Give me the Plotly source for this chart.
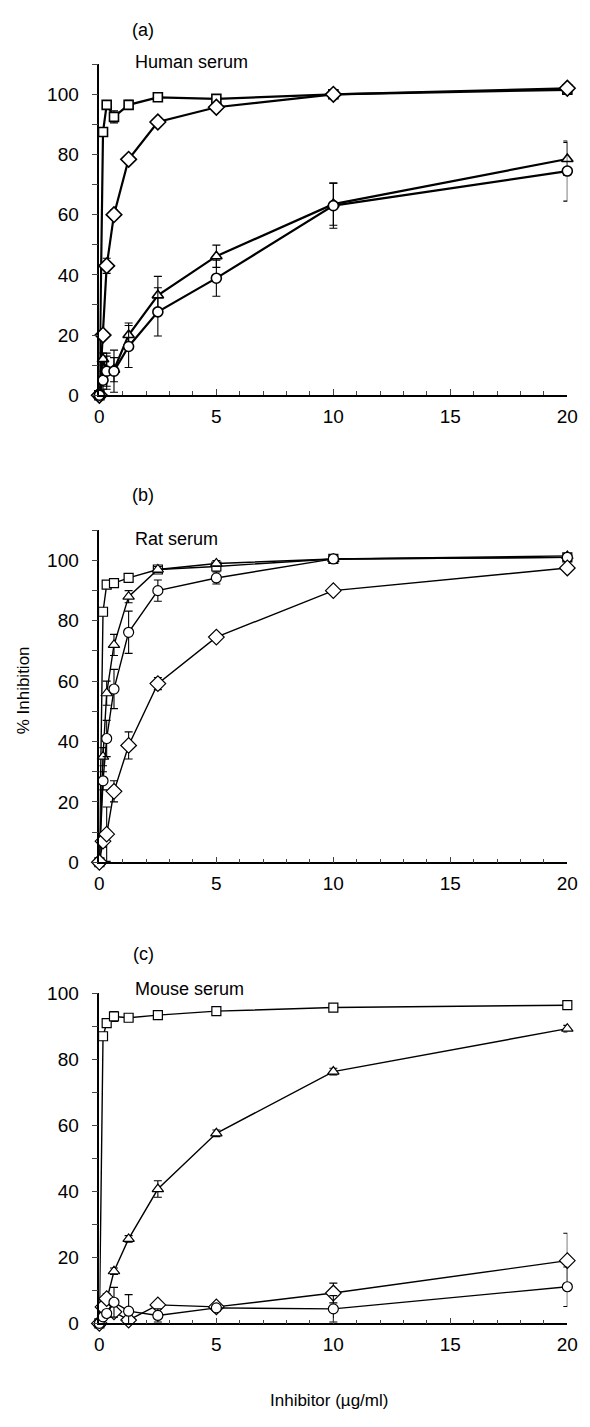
import plotly.graph_objects as go

# ---------------- data ----------------
x = [0, 0.156, 0.3125, 0.625, 1.25, 2.5, 5, 10, 20]

# (a) Human serum
sq_a = [0, 87.5, 96.5, 92.5, 96.5, 99, 98.5, 100, 101.5]
sq_a_err = [0, 1, 1, 2, 1.5, 1, 1, 0.5, 0.5]
dia_a = [0, 20, 43, 60, 78.4, 90.8, 95.7, 100, 102]
dia_a_err = [0, 1.5, 2.5, 1.5, 1, 1, 1, 0.5, 0.5]
tri_a = [0, 12, 8, 8.5, 20, 33.2, 46.2, 63.5, 78.5]
tri_a_err = [0, 2, 5, 4, 4, 6.3, 3.7, 7, 5.5]
cir_a = [0, 5, 8, 8, 16.2, 27.7, 38.9, 63, 74.5]
cir_a_err = [0, 3, 6, 7, 7, 8, 6, 7.5, 10]

# (b) Rat serum
sq_b = [0, 83, 92, 92.5, 94.2, 97, 98, 100.5, 101]
sq_b_err = [0, 1, 1, 1, 1, 1, 1, 0.5, 0.5]
tri_b = [0, 35, 56, 72, 88, 97, 99, 100.5, 101.5]
tri_b_err = [0, 3, 4, 3.5, 2, 1, 1, 0.5, 0.5]
cir_b = [0, 27, 41, 57.4, 76.2, 90, 94.2, 100.5, 101]
cir_b_err = [0, 3, 6, 6.5, 7, 3.5, 2, 0.5, 0.5]
dia_b = [0, 7, 9.3, 23.5, 38.7, 59.2, 74.6, 90, 97.5]
dia_b_err = [0, 2, 9, 3.5, 4.5, 2, 1, 1, 1]

# (c) Mouse serum
sq_c = [0, 87, 91, 93, 92.6, 93.4, 94.6, 95.7, 96.4]
sq_c_err = [0, 1, 1, 1.5, 0.5, 0.5, 0.5, 0.5, 0.5]
tri_c = [0, 3, 7, 15.8, 25.6, 40.7, 57.6, 76.3, 89.3]
tri_c_err = [0, 1, 1, 1, 1, 2.5, 1, 1, 1]
dia_c = [0, 5, 7.5, 3.5, 1, 5.6, 5, 9.2, 19]
dia_c_err = [0, 1, 1.5, 1, 1, 1, 1, 3, 8.3]
cir_c = [0, 2, 3, 6.4, 3.7, 2.4, 4.7, 4.4, 11.1]
cir_c_err = [0, 1, 1, 4.5, 5, 2, 1, 4, 6]

x_ticks = [0, 5, 10, 15, 20]
y_ticks = [0, 20, 40, 60, 80, 100]

panels = [
    dict(label="(a)", name="Human serum", yr=110, lw=2.2, mlw=1.6,
         series=[("square", sq_a, sq_a_err), ("diamond", dia_a, dia_a_err),
                 ("triangle-up", tri_a, tri_a_err), ("circle", cir_a, cir_a_err)]),
    dict(label="(b)", name="Rat serum", yr=110, lw=1.4, mlw=1.2,
         series=[("square", sq_b, sq_b_err), ("triangle-up", tri_b, tri_b_err),
                 ("circle", cir_b, cir_b_err), ("diamond", dia_b, dia_b_err)]),
    dict(label="(c)", name="Mouse serum", yr=100, lw=1.4, mlw=1.2,
         series=[("square", sq_c, sq_c_err), ("triangle-up", tri_c, tri_c_err),
                 ("diamond", dia_c, dia_c_err), ("circle", cir_c, cir_c_err)]),
]

W, H = 590, 1427
X0, X1 = 97, 578
tops = [55, 528, 998]
bots = [391, 865, 1333]
label_y = [20, 492, 958]
name_y = [53, 537, 994]
sizes = {"square": 9, "diamond": 12, "triangle-up": 10, "circle": 10}

FONT = "Liberation Sans, Arial, sans-serif"

fig = go.Figure()
layout = dict(width=W, height=H, margin=dict(l=0, r=0, t=0, b=0),
              plot_bgcolor="white", paper_bgcolor="white", showlegend=False,
              font=dict(family=FONT, color="black"))
annotations = []

for i, p in enumerate(panels):
    k = i + 1
    xa = "x" if k == 1 else f"x{k}"
    ya = "y" if k == 1 else f"y{k}"
    for sym, vals, err in p["series"]:
        fig.add_trace(go.Scatter(
            x=x, y=vals, xaxis=xa, yaxis=ya, mode="lines+markers",
            line=dict(color="black", width=p["lw"]),
            marker=dict(symbol=sym, size=sizes[sym], color="white",
                        line=dict(color="black", width=p["mlw"])),
            error_y=dict(type="data", array=err, color="black", thickness=1.1, width=4),
            cliponaxis=False))
    layout[f"xaxis{'' if k == 1 else k}"] = dict(
        domain=[X0 / W, X1 / W], anchor=ya, range=[0, 20],
        tickvals=x_ticks, ticks="inside", ticklen=6, tickwidth=1,
        minor=dict(dtick=1, ticks="inside", ticklen=4, tickwidth=1),
        showline=True, linecolor="black", linewidth=1.5,
        showgrid=False, zeroline=False, ticklabelstandoff=3,
        ticklabeloverflow="allow",
        tickfont=dict(size=19, family=FONT, color="black"))
    layout[f"yaxis{'' if k == 1 else k}"] = dict(
        domain=[1 - bots[i] / H, 1 - tops[i] / H], anchor=xa, range=[0, p["yr"] + 0.01],
        tickvals=y_ticks, ticks="outside", ticklen=6, tickwidth=1,
        minor=dict(dtick=10, ticks="outside", ticklen=6, tickwidth=1),
        showline=True, linecolor="black", linewidth=1.5,
        showgrid=False, zeroline=False, ticklabelstandoff=9,
        tickfont=dict(size=19, family=FONT, color="black"))
    annotations.append(dict(text=p["label"], x=142 / W, y=1 - label_y[i] / H,
                            xref="paper", yref="paper", showarrow=False,
                            xanchor="center", yanchor="middle",
                            font=dict(size=18, family=FONT, color="black")))
    annotations.append(dict(text=p["name"], x=132 / W, y=1 - name_y[i] / H,
                            xref="paper", yref="paper", showarrow=False,
                            xanchor="left", yanchor="middle",
                            font=dict(size=18, family=FONT, color="black")))

annotations.append(dict(text="% Inhibition", x=19 / W, y=1 - 690 / H,
                        xref="paper", yref="paper", showarrow=False, textangle=-90,
                        xanchor="center", yanchor="middle",
                        font=dict(size=17, family=FONT, color="black")))
annotations.append(dict(text="Inhibitor (µg/ml)", x=333 / W, y=1 - 1411 / H,
                        xref="paper", yref="paper", showarrow=False,
                        xanchor="center", yanchor="middle",
                        font=dict(size=17, family=FONT, color="black")))
layout["annotations"] = annotations
fig.update_layout(**layout)
fig.write_html(
    "out.html",
    config={"displayModeBar": False},
    post_script="document.body.style.margin='0';document.body.style.padding='0';"
                "document.documentElement.style.overflow='hidden';",
)
